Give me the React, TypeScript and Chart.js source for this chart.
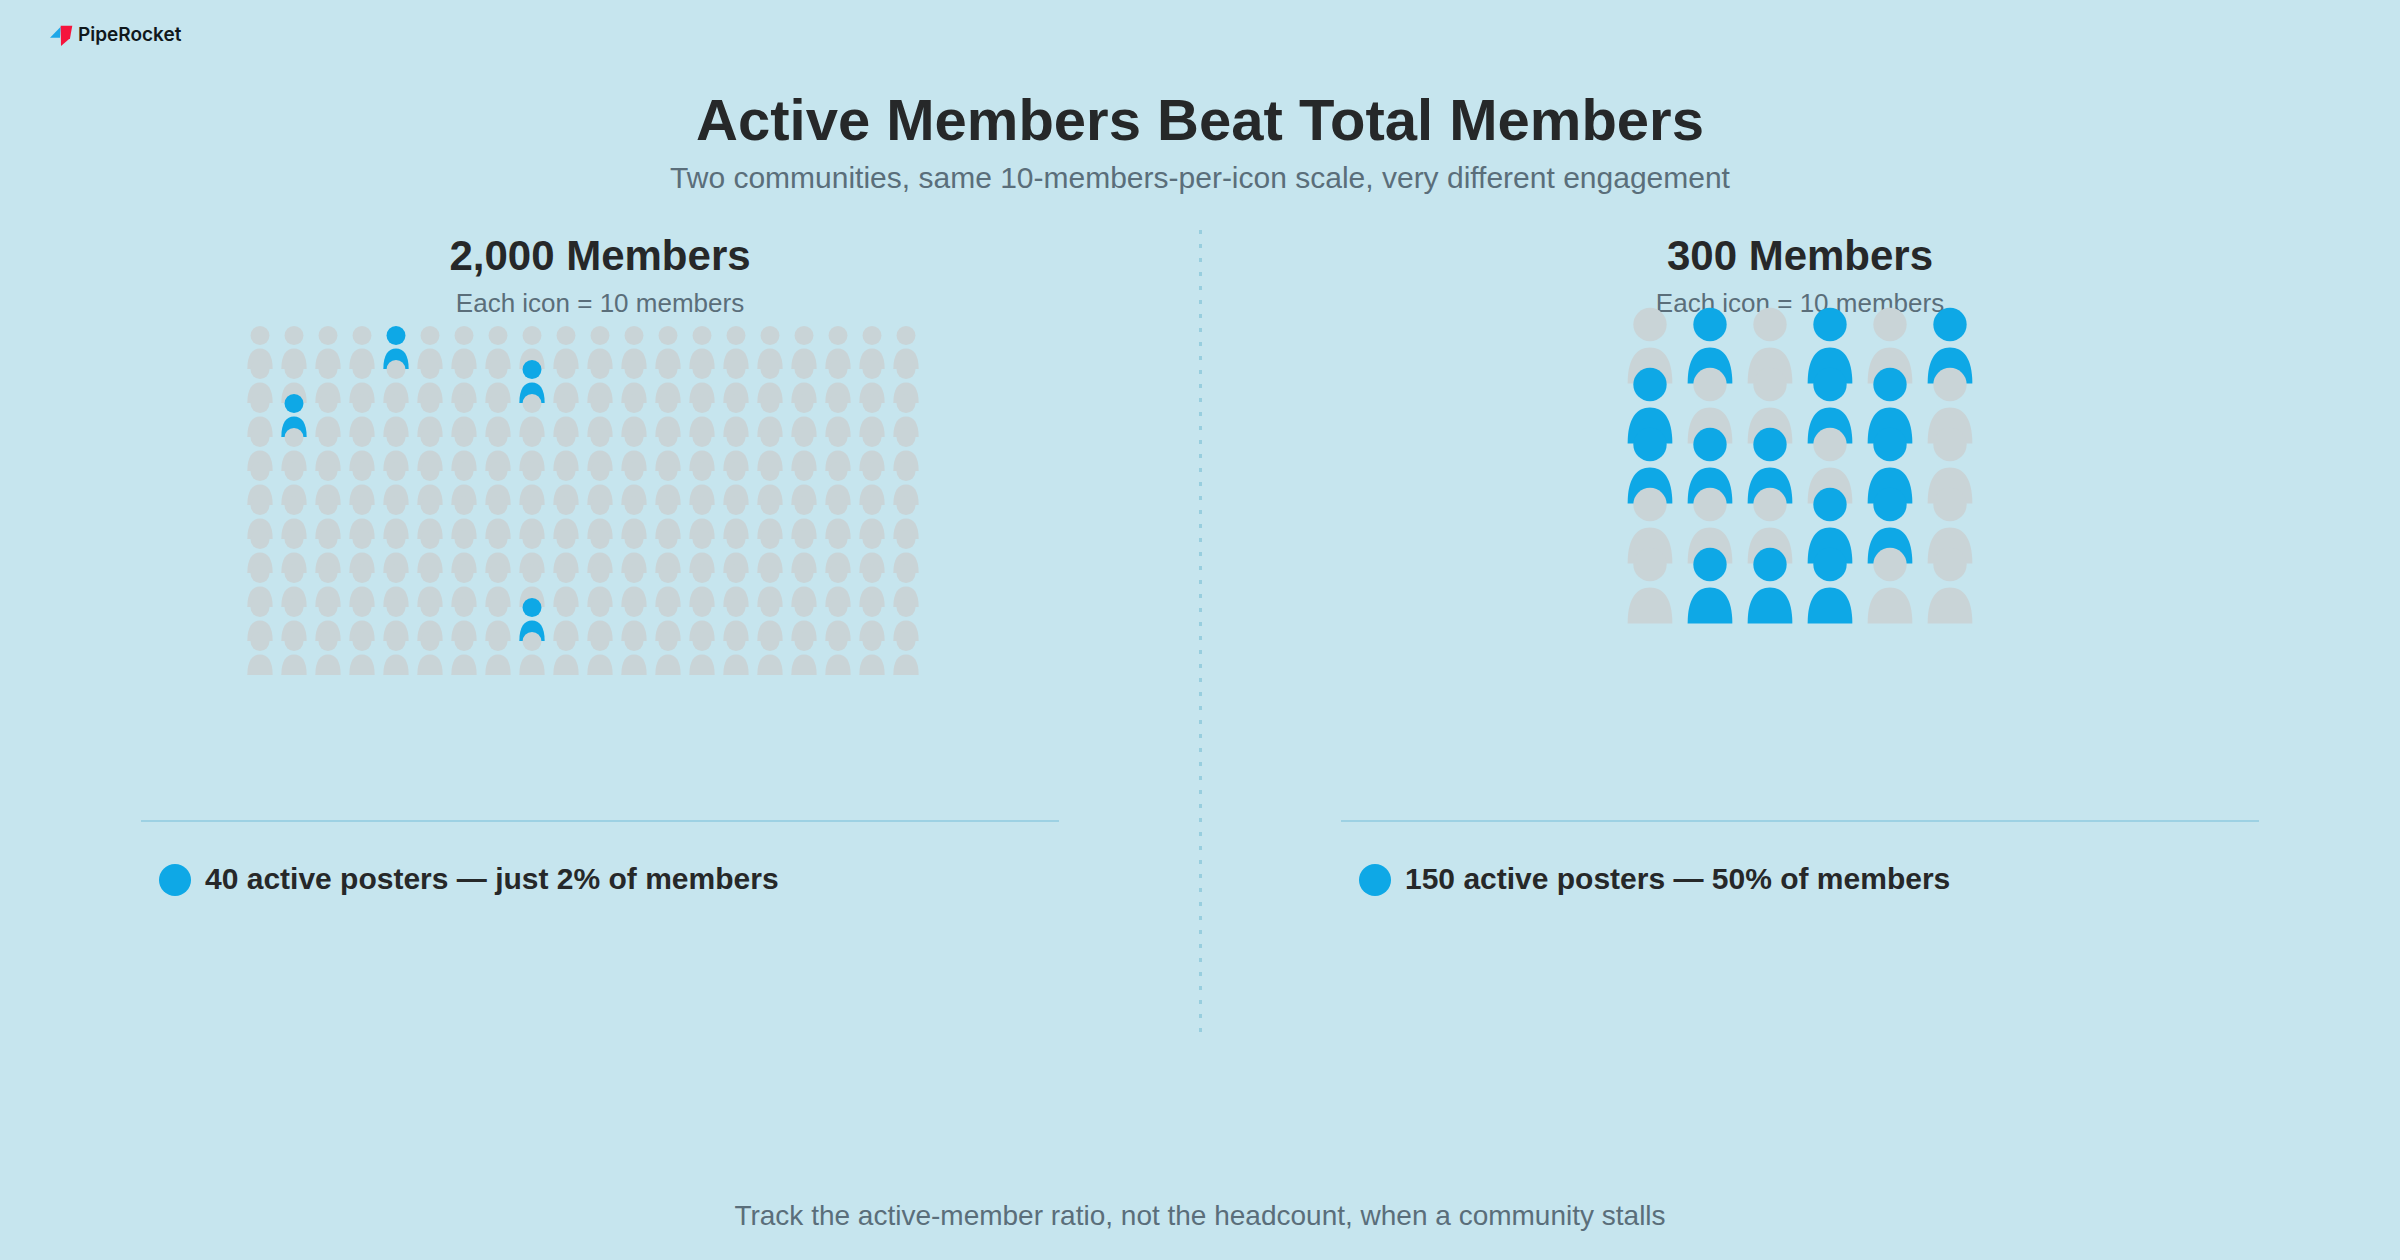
import React, { useEffect, useRef } from "react";
import { Chart, registerables } from "chart.js";

Chart.register(...registerables);

const title = "Active Members Beat Total Members";
const subtitle = "Two communities, same 10-members-per-icon scale, very different engagement";
const footer = "Track the active-member ratio, not the headcount, when a community stalls";
const brand = "PipeRocket";
const iconNote = "Each icon = 10 members";

const leftHeading = "2,000 Members";
const leftLegend = "40 active posters \u2014 just 2% of members";
const leftCols = 20;
const leftRows = 10;
const leftActive = ["4,0", "8,1", "1,2", "8,8"];

const rightHeading = "300 Members";
const rightLegend = "150 active posters \u2014 50% of members";
const rightCols = 6;
const rightRows = 5;
const rightActive = [
  "1,0", "3,0", "5,0",
  "0,1", "3,1", "4,1",
  "0,2", "1,2", "2,2", "4,2",
  "3,3", "4,3",
  "1,4", "2,4", "3,4",
];

const BG = "#c6e5ee";
const GREY = "#c9d4d7";
const BLUE = "#0ea8e6";
const DARK = "#262829";
const MUTED = "#5a6e7a";
const RULE = "#9dd1e3";

function makeIcon(color: string, pitch: number, w: number, h: number, headOffset: number) {
  const c = document.createElement("canvas");
  c.width = w;
  c.height = h;
  const g = c.getContext("2d")!;
  g.fillStyle = color;
  const cx = w / 2;
  g.beginPath();
  g.arc(cx, headOffset, 0.278 * pitch, 0, Math.PI * 2);
  g.fill();
  const top = headOffset + 0.383 * pitch;
  const bh = 0.6 * pitch;
  const hw = 0.3725 * pitch;
  g.beginPath();
  g.moveTo(cx - hw, top + bh);
  g.bezierCurveTo(cx - hw, top + bh * 0.3, cx - hw * 0.6, top, cx, top);
  g.bezierCurveTo(cx + hw * 0.6, top, cx + hw, top + bh * 0.3, cx + hw, top + bh);
  g.closePath();
  g.fill();
  return c;
}

type PanelProps = {
  cols: number;
  rows: number;
  active: string[];
  pitch: number;
  iconW: number;
  iconH: number;
  headOffset: number;
  left: number;
  top: number;
};

function IconGrid({ cols, rows, active, pitch, iconW, iconH, headOffset, left, top }: PanelProps) {
  const ref = useRef<HTMLCanvasElement>(null);
  useEffect(() => {
    const grey = makeIcon(GREY, pitch, iconW, iconH, headOffset);
    const blue = makeIcon(BLUE, pitch, iconW, iconH, headOffset);
    const points: { x: number; y: number }[] = [];
    for (let r = 0; r < rows; r++) for (let c = 0; c < cols; c++) points.push({ x: c, y: r });
    const chart = new Chart(ref.current!, {
      type: "scatter",
      data: {
        datasets: [
          {
            data: points,
            showLine: false,
            clip: false,
            pointStyle: (ctx: any) => {
              const p = points[ctx.dataIndex];
              return p && active.includes(`${p.x},${p.y}`) ? blue : grey;
            },
          } as any,
        ],
      },
      options: {
        responsive: false,
        animation: false,
        events: [],
        layout: { padding: 0, autoPadding: false },
        plugins: { legend: { display: false }, tooltip: { enabled: false }, title: { display: false } },
        scales: {
          x: { type: "linear", display: false, min: -0.5, max: cols - 0.5 },
          y: { type: "linear", display: false, reverse: true, min: -1, max: rows },
        },
      },
    });
    return () => chart.destroy();
  }, []);
  return (
    <canvas
      ref={ref}
      width={cols * pitch}
      height={(rows + 1) * pitch}
      style={{ position: "absolute", left, top, width: cols * pitch, height: (rows + 1) * pitch }}
    />
  );
}

const font = '"Liberation Sans", Arial, sans-serif';

function Text(props: {
  children: React.ReactNode;
  cx?: number;
  x?: number;
  cy: number;
  size: number;
  weight?: number;
  color: string;
  family?: string;
}) {
  const { children, cx, x, cy, size, weight = 400, color, family = font } = props;
  const style: React.CSSProperties = {
    position: "absolute",
    top: cy - 50,
    height: 100,
    lineHeight: "100px",
    fontFamily: family,
    fontSize: size,
    fontWeight: weight,
    color,
    whiteSpace: "nowrap",
  };
  if (cx !== undefined) {
    style.left = cx - 1000;
    style.width = 2000;
    style.textAlign = "center";
  } else {
    style.left = x;
  }
  return <div style={style}>{children}</div>;
}

export default function App() {
  useEffect(() => {
    document.body.style.margin = "0";
    document.body.style.background = BG;
  }, []);
  return (
    <div style={{ position: "absolute", left: 0, top: 0, width: 2400, height: 1260, background: BG, overflow: "hidden" }}>
      <svg style={{ position: "absolute", left: 0, top: 0 }} width={100} height={60}>
        <polygon points="50,37.7 60.7,26.7 60,37.7" fill="#1ea7e8" />
        <polygon points="60.7,25.7 72.3,25.7 70,38.3 61,46" fill="#f5143c" />
      </svg>
      <Text x={78} cy={34.5} size={19} weight={600} color="#10181c" family="Inter, sans-serif">{brand}</Text>

      <Text cx={1200} cy={119.5} size={58} weight={700} color={DARK}>{title}</Text>
      <Text cx={1200} cy={178} size={30} color={MUTED}>{subtitle}</Text>

      <Text cx={600} cy={256} size={42} weight={700} color={DARK}>{leftHeading}</Text>
      <Text cx={600} cy={303} size={26} color={MUTED}>{iconNote}</Text>
      <Text cx={1800} cy={256} size={42} weight={700} color={DARK}>{rightHeading}</Text>
      <Text cx={1800} cy={303} size={26} color={MUTED}>{iconNote}</Text>

      <IconGrid cols={leftCols} rows={leftRows} active={leftActive} pitch={34} iconW={28} iconH={48} headOffset={10.5} left={243} top={315} />
      <IconGrid cols={rightCols} rows={rightRows} active={rightActive} pitch={60} iconW={48} iconH={84} headOffset={18.5} left={1620} top={288} />

      <div
        style={{
          position: "absolute",
          left: 1198.5,
          top: 230,
          width: 3,
          height: 802,
          background: "repeating-linear-gradient(to bottom, #98cede 0, #98cede 4px, transparent 4px, transparent 14px)",
        }}
      />

      <div style={{ position: "absolute", left: 141, top: 820, width: 918, height: 1.5, background: RULE }} />
      <div style={{ position: "absolute", left: 1341, top: 820, width: 918, height: 1.5, background: RULE }} />

      <div style={{ position: "absolute", left: 159, top: 864, width: 32, height: 32, borderRadius: 16, background: BLUE }} />
      <Text x={205} cy={879} size={30} weight={700} color={DARK}>{leftLegend}</Text>
      <div style={{ position: "absolute", left: 1359, top: 864, width: 32, height: 32, borderRadius: 16, background: BLUE }} />
      <Text x={1405} cy={879} size={30} weight={700} color={DARK}>{rightLegend}</Text>

      <Text cx={1200} cy={1216} size={28} color={MUTED}>{footer}</Text>
    </div>
  );
}
